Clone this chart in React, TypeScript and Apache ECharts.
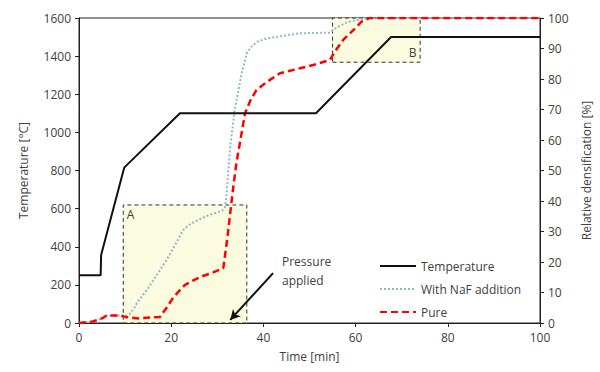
import React, { useEffect, useRef } from "react";
import * as echarts from "echarts";

const timeTemp = [0, 4.7, 4.8, 9.8, 21.9, 51.4, 67.7, 100];
const temperature = [250, 250, 357, 815, 1100, 1100, 1500, 1500];

const timeNaF = [0, 3, 5, 6, 9, 10, 11, 12, 13, 14.7, 17, 19, 21, 22.6, 24, 25.5, 27.5, 29.5, 31, 31.7, 32, 32.4, 32.8, 33.8, 35.3, 36.4, 37.5, 38.8, 40.7, 43.6, 47.9, 54.4, 56, 58, 60, 63, 100];
const densNaF = [0, 0.5, 1.5, 2.5, 2.5, 2.2, 3, 5, 7.5, 10.8, 16, 20.7, 26, 30.5, 32.3, 33.5, 35, 36, 36.8, 38, 42, 50, 58, 70, 82, 88.5, 90.8, 92.3, 93.3, 94, 95, 95.2, 97, 98.5, 99.3, 100, 100];

const timePure = [0, 3, 5, 6, 9, 10, 13, 17.6, 19, 20.5, 21.9, 23, 24.8, 27, 29, 31.3, 32.2, 32.8, 33.5, 34.2, 34.9, 36, 37.2, 38.5, 40.7, 43.6, 47.9, 50.8, 54.4, 55.5, 57.3, 59.5, 61.3, 63, 100];
const densPure = [0, 0.5, 1.5, 2.5, 2.5, 2, 1.5, 2, 5, 8.5, 10.8, 12.5, 14, 15.5, 16.5, 18, 28, 36, 45, 53, 59, 68.7, 73, 76.4, 79, 81.9, 83.5, 84.6, 86.2, 89, 92.8, 96, 98.8, 100, 100];

const boxA = { x0: 9.6, x1: 36.4, y0: 0, y1: 38.7 };
const boxB = { x0: 55, x1: 74, y0: 85.5, y1: 100 };
const arrow = { from: [42.1, 262], to: [32.8, 16] };

const FONT = "'Open Sans', 'Liberation Sans', sans-serif";
const TXT = "#404040";

export default function App() {
  const ref = useRef<HTMLDivElement>(null);
  useEffect(() => {
    if (!ref.current) return;
    document.body.style.margin = "0";
    const chart = echarts.init(ref.current, undefined, { renderer: "svg" });
    const zip = (a: number[], b: number[]) => a.map((v, i) => [v, b[i]]);
    const lbl = { fontSize: 12, color: TXT, fontFamily: FONT, margin: 8, formatter: (v: number) => String(v) };
    chart.setOption({
      animation: false,
      textStyle: { fontFamily: FONT, color: TXT },
      grid: {
        left: 79, right: 60, top: 18, bottom: 49,
        containLabel: false, outerBoundsMode: "none",
        show: true, borderColor: "#222", borderWidth: 1,
      },
      xAxis: {
        type: "value",
        min: 0,
        max: 100,
        interval: 20,
        name: "Time [min]",
        nameLocation: "middle",
        nameGap: 27,
        nameTextStyle: { fontSize: 12, color: TXT, fontFamily: FONT },
        axisLine: { lineStyle: { color: "#222" } },
        axisTick: { show: true, inside: false, length: 4, lineStyle: { color: "#222" } },
        axisLabel: lbl,
        splitLine: { show: false },
      },
      yAxis: [
        {
          type: "value",
          min: 0,
          max: 1600,
          interval: 200,
          name: "Temperature [°C]",
          nameLocation: "middle",
          nameGap: 50,
          nameTextStyle: { fontSize: 12, color: TXT, fontFamily: FONT },
          axisLine: { show: true, lineStyle: { color: "#222" } },
          axisTick: { show: true, length: 4, lineStyle: { color: "#222" } },
          axisLabel: lbl,
          splitLine: { show: false },
        },
        {
          type: "value",
          min: 0,
          max: 100,
          interval: 10,
          name: "Relative densification [%]",
          nameLocation: "middle",
          nameGap: 40,
          nameTextStyle: { fontSize: 12, color: TXT, fontFamily: FONT },
          axisLine: { show: true, lineStyle: { color: "#222" } },
          axisTick: { show: true, length: 4, lineStyle: { color: "#222" } },
          axisLabel: lbl,
          splitLine: { show: false },
        },
      ],
      legend: {
        orient: "vertical",
        left: 374,
        top: 255,
        itemWidth: 36,
        itemHeight: 14,
        itemGap: 11,
        itemStyle: { opacity: 0 },
        textStyle: { fontSize: 12, color: TXT, fontFamily: FONT },
        data: ["Temperature", "With NaF addition", "Pure"],
      },
      series: [
        {
          name: "With NaF addition",
          type: "line",
          yAxisIndex: 1,
          symbol: "none",
          z: 2,
          data: zip(timeNaF, densNaF),
          lineStyle: { color: "#8fb9c6", width: 2, type: [2, 2] },
          itemStyle: { color: "#8fb9c6" },
          markArea: {
            silent: true,
            itemStyle: { color: "rgba(250,250,218,0.85)", borderColor: "#333", borderWidth: 1, borderType: [4, 3] },
            data: [
              [
                { xAxis: boxA.x0, yAxis: boxA.y0, name: "A", label: { show: true, position: "insideTopLeft", distance: 4, color: TXT, fontSize: 12, fontFamily: FONT } },
                { xAxis: boxA.x1, yAxis: boxA.y1 },
              ],
              [
                { xAxis: boxB.x0, yAxis: boxB.y0, name: "B", label: { show: true, position: "insideBottomRight", distance: 4, color: TXT, fontSize: 12, fontFamily: FONT } },
                { xAxis: boxB.x1, yAxis: boxB.y1 },
              ],
            ],
          },
        },
        {
          name: "Pure",
          type: "line",
          yAxisIndex: 1,
          symbol: "none",
          z: 3,
          data: zip(timePure, densPure),
          lineStyle: { color: "#ff0000", width: 2.5, type: [7, 4] },
          itemStyle: { color: "#ff0000" },
        },
        {
          name: "Temperature",
          type: "line",
          yAxisIndex: 0,
          symbol: "none",
          z: 4,
          data: zip(timeTemp, temperature),
          lineStyle: { color: "#111", width: 2 },
          itemStyle: { color: "#111" },
          markLine: {
            silent: true,
            symbol: ["none", "arrow"],
            symbolSize: [8, 10],
            label: { show: false },
            lineStyle: { color: "#111", width: 2, type: "solid" },
            data: [[{ coord: arrow.from }, { coord: arrow.to }]],
          },
        },
      ],
      graphic: [
        {
          type: "text",
          left: 282,
          top: 252,
          style: { text: "Pressure\napplied", fill: TXT, font: `12px ${FONT}`, align: "center", lineHeight: 19 },
        },
      ],
    });
    return () => chart.dispose();
  }, []);
  return <div ref={ref} style={{ width: 600, height: 372 }} />;
}
